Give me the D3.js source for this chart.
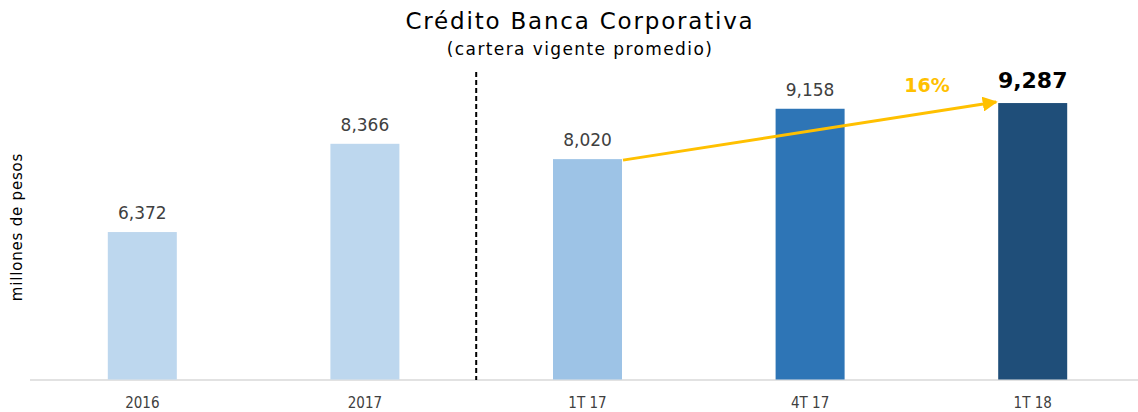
<!DOCTYPE html>
<html><head><meta charset="utf-8">
<script src="https://cdn.jsdelivr.net/npm/d3@7"></script>
<style>body{margin:0;background:#fff}svg{display:block}</style>
</head><body>
<svg id="c" width="1138" height="412"></svg>
<script>
const categories = ["2016", "2017", "1T 17", "4T 17", "1T 18"];
const values = [6372, 8366, 8020, 9158, 9287];
const valueLabels = ["6,372", "8,366", "8,020", "9,158", "9,287"];
const colors = ["#BDD7EE", "#BDD7EE", "#9DC3E6", "#2E75B6", "#1F4E79"];
const growthLabel = "16%";
const title = "Crédito Banca Corporativa";
const subtitle = "(cartera vigente promedio)";
const yTitle = "millones de pesos";

const font = "'Century Gothic','DejaVu Sans',sans-serif";
const condFont = "'DejaVu Sans Condensed','DejaVu Sans',sans-serif";
const svg = d3.select("#c");
const x = d3.scaleBand().domain(categories).range([31, 1144]).paddingInner(0.69).paddingOuter(0.345);
const y = d3.scaleLinear().domain([3040, 10000]).range([379.5, 71.5]);

// baseline
svg.append("line").attr("x1", 30).attr("x2", 1138).attr("y1", 380).attr("y2", 380)
  .attr("stroke", "#d9d9d9").attr("stroke-width", 1.5);

svg.selectAll("rect.bar").data(categories).join("rect").attr("class", "bar")
  .attr("x", d => x(d)).attr("width", x.bandwidth())
  .attr("y", (d, i) => y(values[i])).attr("height", (d, i) => y.range()[0] - y(values[i]))
  .attr("fill", (d, i) => colors[i]);

// value labels
svg.selectAll("text.val").data(categories).join("text").attr("class", "val")
  .attr("x", d => x(d) + x.bandwidth() / 2)
  .attr("y", (d, i) => y(values[i]) - (i === 4 ? 15 : 13))
  .attr("text-anchor", "middle")
  .attr("font-family", font)
  .attr("font-size", (d, i) => i === 4 ? 22 : 17)
  .attr("font-weight", (d, i) => i === 4 ? "bold" : "normal")
  .attr("fill", (d, i) => i === 4 ? "#000" : "#404040")
  .text((d, i) => valueLabels[i]);

// x tick labels
const xAxis = svg.append("g").attr("transform", "translate(0,380)")
  .call(d3.axisBottom(x).tickSize(0).tickPadding(17));
xAxis.select(".domain").remove();
xAxis.selectAll("text").attr("font-family", condFont).attr("font-size", 15).attr("fill", "#404040");

// dashed separator
const sepX = (x(categories[1]) + x.bandwidth() + x(categories[2])) / 2;
svg.append("line").attr("x1", sepX).attr("x2", sepX).attr("y1", 72).attr("y2", 380)
  .attr("stroke", "#000").attr("stroke-width", 2).attr("stroke-dasharray", "5,3");

// arrow
const defs = svg.append("defs");
defs.append("marker").attr("id", "ah").attr("viewBox", "0 0 10 10").attr("refX", 9).attr("refY", 5)
  .attr("markerWidth", 5).attr("markerHeight", 5).attr("orient", "auto")
  .append("path").attr("d", "M0,0L10,5L0,10Z").attr("fill", "#FFC000");
const x0 = x(categories[2]) + x.bandwidth() + 1, y0 = y(values[2]) + 1;
const x1 = x(categories[4]) - 2, y1 = y(values[4]) - 1;
svg.append("line").attr("x1", x0).attr("y1", y0).attr("x2", x1).attr("y2", y1)
  .attr("stroke", "#FFC000").attr("stroke-width", 3).attr("marker-end", "url(#ah)");
svg.append("text").attr("x", 927).attr("y", 92).attr("text-anchor", "middle")
  .attr("font-family", font).attr("font-size", 19).attr("font-weight", "bold").attr("fill", "#FFC000")
  .text(growthLabel);

// titles
svg.append("text").attr("x", 580).attr("y", 29).attr("text-anchor", "middle")
  .attr("font-family", font).attr("font-size", 23).attr("letter-spacing", 1.8).attr("fill", "#000").text(title);
svg.append("text").attr("x", 580).attr("y", 55).attr("text-anchor", "middle")
  .attr("font-family", font).attr("font-size", 17).attr("letter-spacing", 1.4).attr("fill", "#000").text(subtitle);
svg.append("text").attr("transform", "translate(22,227) rotate(-90)").attr("text-anchor", "middle")
  .attr("font-family", font).attr("font-size", 15).attr("letter-spacing", 0.8).attr("fill", "#000").text(yTitle);
</script>
</body></html>
